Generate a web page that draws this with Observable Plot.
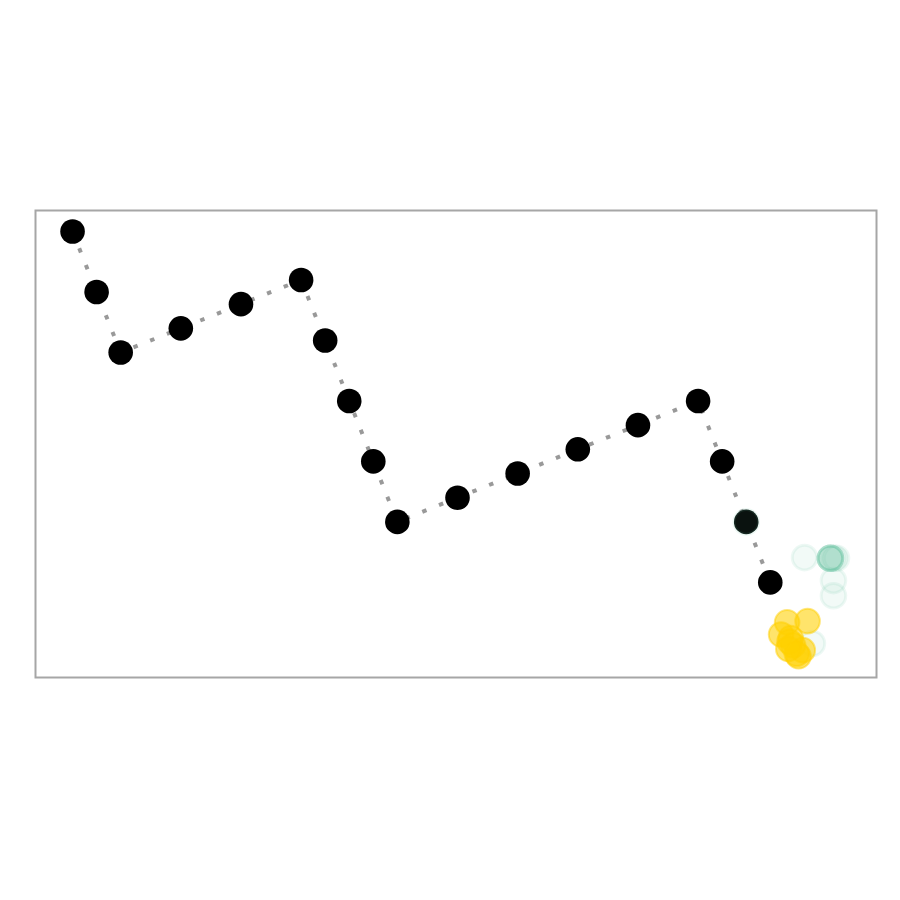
<!DOCTYPE html>
<html>
<head>
<meta charset="utf-8">
<script src="https://cdn.jsdelivr.net/npm/d3@7"></script>
<script src="https://cdn.jsdelivr.net/npm/@observablehq/plot@0.6"></script>
<style>
  html, body { margin: 0; padding: 0; background: #fff; }
</style>
</head>
<body>
<div id="chart"></div>
<script>
// Path of the walker (black points, in grid units)
const pathX = [0, 2, 4, 9, 14, 19, 21, 23, 25, 27, 32, 37, 42, 47, 52, 54, 56, 58];
const pathY = [0, -5, -10, -8, -6, -4, -9, -14, -19, -24, -22, -20, -18, -16, -14, -19, -24, -29];

// Green (faint) candidate points
const greenX = [56, 60.85, 63, 63, 63, 63, 63, 63, 63.3, 63.5, 63.25, 63.25, 61.5];
const greenY = [-24, -26.95, -27, -27, -27, -27, -27, -27, -27, -27, -28.85, -30.1, -34.05];

// Yellow points
const yellowX = [59.4, 61.1, 58.9, 59.7, 60.35, 60.7, 59.9, 59.6, 60.2, 59.5];
const yellowY = [-32.3, -32.2, -33.3, -33.6, -35.1, -34.6, -34.2, -33.9, -34.9, -34.5];

const path = pathX.map((x, i) => ({x, y: pathY[i]}));
const green = greenX.map((x, i) => ({x, y: greenY[i]}));
const yellow = yellowX.map((x, i) => ({x, y: yellowY[i]}));

const chart = Plot.plot({
  width: 900,
  height: 900,
  marginLeft: 35,
  marginRight: 24,
  marginTop: 210,
  marginBottom: 223,
  x: {domain: [-3.08, 66.83], axis: null},
  y: {domain: [-36.86, 1.74], axis: null},
  marks: [
    Plot.frame({stroke: "#a6a6a6", strokeWidth: 2}),
    Plot.line(path, {x: "x", y: "y", stroke: "#999999", strokeWidth: 4, strokeDasharray: "4.5,13.5", strokeLinecap: "butt"}),
    Plot.dot(path, {x: "x", y: "y", r: 12.3, fill: "black", stroke: "none"}),
    Plot.dot(green, {x: "x", y: "y", r: 12.3, fill: "#6cc4a4", fillOpacity: 0.09, stroke: "#6cc4a4", strokeOpacity: 0.12, strokeWidth: 3}),
    Plot.dot(yellow, {x: "x", y: "y", r: 12.3, fill: "#ffd000", fillOpacity: 0.58, stroke: "#ffd000", strokeOpacity: 0.5, strokeWidth: 2})
  ]
});
document.getElementById("chart").appendChild(chart);
</script>
</body>
</html>
